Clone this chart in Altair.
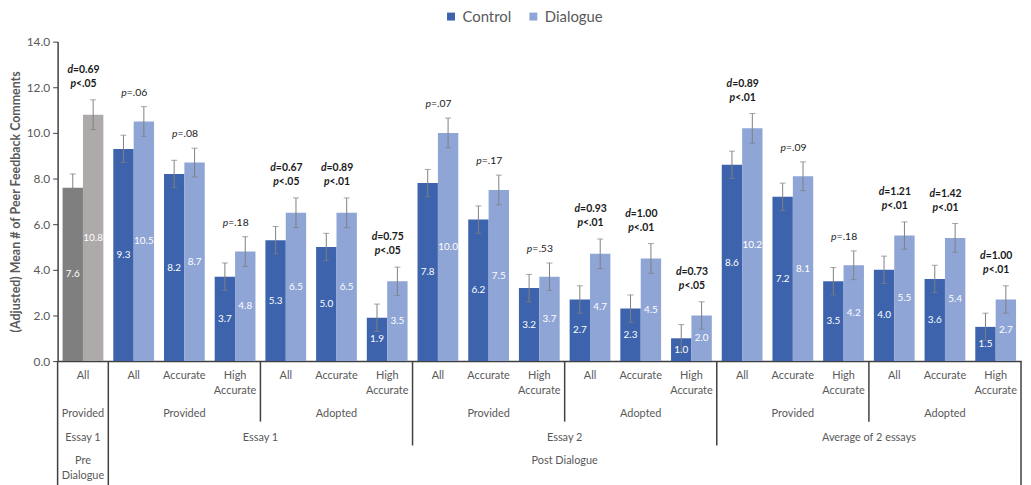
import altair as alt
import pandas as pd

# ---------------- data ----------------
cats = ["c%02d" % i for i in range(19)]
tier1 = ["All",
         "All", "Accurate", "High\nAccurate", "All", "Accurate", "High\nAccurate",
         "All", "Accurate", "High\nAccurate", "All", "Accurate", "High\nAccurate",
         "All", "Accurate", "High\nAccurate", "All", "Accurate", "High\nAccurate"]
control = [7.6, 9.3, 8.2, 3.7, 5.3, 5.0, 1.9, 7.8, 6.2, 3.2, 2.7, 2.3, 1.0, 8.6, 7.2, 3.5, 4.0, 3.6, 1.5]
dialogue = [10.8, 10.5, 8.7, 4.8, 6.5, 6.5, 3.5, 10.0, 7.5, 3.7, 4.7, 4.5, 2.0, 10.2, 8.1, 4.2, 5.5, 5.4, 2.7]
err_control = [0.6, 0.6, 0.6, 0.6, 0.6, 0.6, 0.6, 0.6, 0.6, 0.6, 0.6, 0.6, 0.6, 0.6, 0.6, 0.6, 0.6, 0.6, 0.6]
err_dialogue = [0.65, 0.65, 0.63, 0.65, 0.65, 0.65, 0.62, 0.65, 0.65, 0.6, 0.65, 0.65, 0.6, 0.65, 0.63, 0.63, 0.6, 0.63, 0.6]
d_stat = ["0.69", None, None, None, "0.67", "0.89", "0.75", None, None, None,
          "0.93", "1.00", "0.73", "0.89", None, None, "1.21", "1.42", "1.00"]
p_stat = ["<.05", "=.06", "=.08", "=.18", "<.05", "<.01", "<.05", "=.07", "=.17", "=.53",
          "<.01", "<.01", "<.05", "<.01", "=.09", "=.18", "<.01", "<.01", "<.01"]

level2_labels = ["Provided", "Provided", "Adopted", "Provided", "Adopted", "Provided", "Adopted"]
level2_start = [0, 1, 4, 7, 10, 13, 16]
level2_end = [1, 4, 7, 10, 13, 16, 19]
level3_labels = ["Essay 1", "Essay 1", "Essay 2", "Average of 2 essays"]
level3_start = [0, 1, 7, 13]
level3_end = [1, 7, 13, 19]
level4_labels = ["Pre\nDialogue", "Post Dialogue"]
level4_start = [0, 1]
level4_end = [1, 19]
sep_long = [0, 1, 19]
sep_mid = [7, 13]
sep_short = [4, 10, 16]

groups = ["Control", "Dialogue"]

# ---------------- styles ----------------
YT = "(Adjusted) Mean # of Peer Feedback Comments"
AXIS_COLOR = "#404040"
TEXT_GRAY = "#595959"
ERR = "#7f7f7f"
BLUE_D = "#3d63ad"
BLUE_L = "#8fa5d6"
GRAY_D = "#7f7f7f"
GRAY_L = "#aeaaaa"
ANN = "#1a1a1a"

# ---------------- tables ----------------
rows = []
for i, c in enumerate(cats):
    rows.append({"cat": c, "group": "Control", "value": control[i], "err": err_control[i]})
    rows.append({"cat": c, "group": "Dialogue", "value": dialogue[i], "err": err_dialogue[i]})
bars_df = pd.DataFrame(rows)

ann_df = pd.DataFrame({
    "cat": cats,
    "top": [dialogue[i] + err_dialogue[i] for i in range(19)],
    "d": d_stat,
    "p": p_stat,
})
ann_df["two"] = ann_df["d"].notna()
ann_df["drest"] = ["=" + d if d else "" for d in d_stat]

tier_df = pd.DataFrame({"cat": cats, "label": tier1})
l2_df = pd.DataFrame({"label": level2_labels, "start": level2_start, "end": level2_end})
l3_df = pd.DataFrame({"label": level3_labels, "start": level3_start, "end": level3_end})
l4_df = pd.DataFrame({"label": level4_labels, "start": level4_start, "end": level4_end})

# ---------------- encodings ----------------
x_enc = alt.X("cat:N", scale=alt.Scale(domain=cats, paddingInner=0, paddingOuter=0),
              axis=alt.Axis(labels=False, ticks=False, title=None, grid=False,
                            domainColor=AXIS_COLOR, domainWidth=1.5))
xo_enc = alt.XOffset("group:N", scale=alt.Scale(domain=groups, paddingInner=0, paddingOuter=0.244))
y_scale = alt.Scale(domain=[0, 14], nice=False, zero=True)
y_axis = alt.Axis(values=[0, 2, 4, 6, 8, 10, 12, 14], format=".1f", grid=False,
                  tickSize=5, tickColor=AXIS_COLOR, domainColor=AXIS_COLOR, domainWidth=1.5,
                  labelFontSize=12, labelColor=TEXT_GRAY, labelPadding=3,
                  titleFontSize=12.5, titleFontWeight="bold", titleColor=TEXT_GRAY, titlePadding=4)


def Y(field):
    return alt.Y(field, scale=y_scale, axis=y_axis, title=YT)


base = alt.Chart(bars_df)

blue = base.transform_filter("datum.cat != 'c00'").mark_bar().encode(
    x=x_enc, xOffset=xo_enc, y=Y("value:Q"),
    color=alt.Color("group:N", scale=alt.Scale(domain=groups, range=[BLUE_D, BLUE_L]),
                    legend=alt.Legend(orient="none", legendX=389, legendY=-33, direction="horizontal",
                                      title=None, symbolType="square", symbolSize=64,
                                      symbolStrokeWidth=0, labelFontSize=15, labelColor=TEXT_GRAY,
                                      columnPadding=14, labelOffset=4)))

gray = base.transform_filter("datum.cat == 'c00'").mark_bar().encode(
    x=x_enc, xOffset=xo_enc, y=Y("value:Q"),
    color=alt.condition("datum.group == 'Control'", alt.value(GRAY_D), alt.value(GRAY_L)))

errb = base.transform_calculate(lo="datum.value - datum.err", hi="datum.value + datum.err")
err_rule = errb.mark_rule(color=ERR, strokeWidth=1).encode(x=x_enc, xOffset=xo_enc, y=Y("lo:Q"), y2="hi:Q")
cap_lo = errb.mark_tick(color=ERR, thickness=1, size=6).encode(x=x_enc, xOffset=xo_enc, y=Y("lo:Q"))
cap_hi = errb.mark_tick(color=ERR, thickness=1, size=6).encode(x=x_enc, xOffset=xo_enc, y=Y("hi:Q"))

vlabels = base.transform_calculate(mid="datum.value / 2").mark_text(
    color="white", fontSize=10, baseline="middle").encode(
    x=x_enc, xOffset=xo_enc, y=Y("mid:Q"), text=alt.Text("value:Q", format=".1f"))

ann = alt.Chart(ann_df)
ann_two = ann.transform_filter("datum.two")
ann_one = ann.transform_filter("!datum.two")
FS = 10.5
d_letter = ann_two.mark_text(text="d", fontStyle="italic", fontWeight="bold", align="right",
                             dx=-10, dy=-30, fontSize=FS, color=ANN, baseline="middle").encode(
    x=x_enc, y=Y("top:Q"))
d_rest = ann_two.mark_text(fontWeight="bold", align="left", dx=-10, dy=-30, fontSize=FS,
                           color=ANN, baseline="middle").encode(
    x=x_enc, y=Y("top:Q"), text="drest:N")
p2_letter = ann_two.mark_text(text="p", fontStyle="italic", fontWeight="bold", align="right",
                              dx=-7, dy=-16, fontSize=FS, color=ANN, baseline="middle").encode(
    x=x_enc, y=Y("top:Q"))
p2_rest = ann_two.mark_text(fontWeight="bold", align="left", dx=-7, dy=-16, fontSize=FS,
                            color=ANN, baseline="middle").encode(
    x=x_enc, y=Y("top:Q"), text="p:N")
p1_letter = ann_one.mark_text(text="p", fontStyle="italic", align="right",
                              dx=-7, dy=-14, fontSize=FS, color=ANN, baseline="middle").encode(
    x=x_enc, y=Y("top:Q"))
p1_rest = ann_one.mark_text(align="left", dx=-7, dy=-14, fontSize=FS,
                            color=ANN, baseline="middle").encode(
    x=x_enc, y=Y("top:Q"), text="p:N")

tier_text = alt.Chart(tier_df).mark_text(fontSize=11, color=TEXT_GRAY, baseline="top",
                                         lineBreak="\n", lineHeight=15.5).encode(
    x=x_enc, y=alt.value(331), text="label:N")

main = alt.layer(blue, gray, err_rule, cap_lo, cap_hi, vlabels,
                 d_letter, d_rest, p2_letter, p2_rest, p1_letter, p1_rest, tier_text)

# ---------------- hierarchical axis ----------------
xq = alt.X("pos:Q", scale=alt.Scale(domain=[0, 19], nice=False, zero=False), axis=None)


def seps(vals, y2):
    return alt.Chart(pd.DataFrame({"pos": vals})).mark_rule(color=AXIS_COLOR, strokeWidth=1.5).encode(
        x=xq, y=alt.value(322), y2=alt.value(y2))


def glabels(df, ypx):
    return alt.Chart(df).transform_calculate(pos="(datum.start + datum.end) / 2").mark_text(
        fontSize=11, color=TEXT_GRAY, baseline="top", lineBreak="\n", lineHeight=15).encode(
        x=xq, y=alt.value(ypx), text="label:N")


aux = alt.layer(seps(sep_long, 450), seps(sep_mid, 407), seps(sep_short, 383),
                glabels(l2_df, 369), glabels(l3_df, 394), glabels(l4_df, 416.5))

chart = alt.layer(main, aux).resolve_scale(x="independent").properties(
    width=971, height=322,
    padding={"left": 50, "top": 32, "right": 2, "bottom": 125},
    autosize=alt.AutoSizeParams(type="none"),
).configure(font="Lato").configure_view(stroke=None)

chart.save("out.html", embed_options={"renderer": "svg", "actions": False})
